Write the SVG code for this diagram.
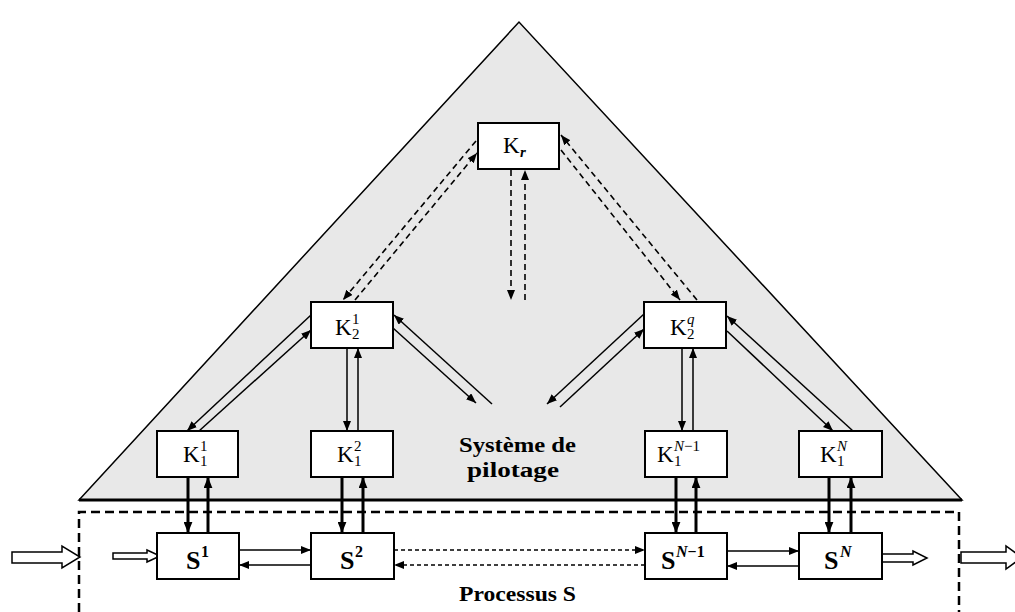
<svg xmlns="http://www.w3.org/2000/svg" width="1015" height="612" viewBox="0 0 1015 612">
<style>
.box{fill:#fff;stroke:#000;stroke-width:2}
.k{font-family:"Liberation Serif",serif;font-size:23px;fill:#000}
.ks{font-family:"Liberation Serif",serif;font-size:15px;fill:#000}
.s{font-family:"Liberation Serif",serif;font-size:26px;font-weight:bold;fill:#000}
.ss{font-family:"Liberation Serif",serif;font-size:16px;font-weight:bold;fill:#000}
.it{font-style:italic}
.lbl{font-family:"Liberation Serif",serif;font-size:20px;font-weight:bold;fill:#000}
.thin{stroke:#000;stroke-width:1.5;fill:none}
.thick{stroke:#000;stroke-width:3;fill:none}
.dash{stroke:#000;stroke-width:1.6;fill:none;stroke-dasharray:6 4}
.dot{stroke:#000;stroke-width:1.5;fill:none;stroke-dasharray:4 3}
.block{fill:#fff;stroke:#000;stroke-width:1.5}
</style>
<defs>
<marker id="ah" viewBox="0 0 10 8" refX="10" refY="4" markerWidth="10" markerHeight="8" orient="auto" markerUnits="userSpaceOnUse"><path d="M0,0 L10,4 L0,8 z" fill="#000"/></marker>
<marker id="ahb" viewBox="0 0 10 8" refX="10" refY="4" markerWidth="11" markerHeight="9" orient="auto" markerUnits="userSpaceOnUse"><path d="M0,0 L10,4 L0,8 z" fill="#000"/></marker>
</defs>
<rect width="1015" height="612" fill="#fff"/>
<g id="triangle">
<polygon points="79,500 519,22 962,500" fill="#e8e8e8" stroke="#000" stroke-width="1.5"/>
<line x1="79" y1="500" x2="962" y2="500" stroke="#000" stroke-width="3"/>
</g>
<g id="process-boundary">
<path d="M79,612 V512 H959 V612" fill="none" stroke="#000" stroke-width="2.5" stroke-dasharray="9 5"/>
</g>
<g id="connectors">
<line class="dash" x1="476" y1="141" x2="343" y2="300" marker-end="url(#ah)"/>
<line class="dash" x1="355" y1="300" x2="477" y2="153" marker-end="url(#ah)"/>
<line class="dash" x1="697" y1="300" x2="561" y2="135" marker-end="url(#ah)"/>
<line class="dash" x1="561" y1="150" x2="680" y2="300" marker-end="url(#ah)"/>
<line class="dash" x1="511" y1="170" x2="511" y2="300" marker-end="url(#ah)"/>
<line class="dash" x1="525" y1="300" x2="525" y2="170" marker-end="url(#ah)"/>
<line class="thin" x1="311" y1="315" x2="187" y2="431" marker-end="url(#ah)"/>
<line class="thin" x1="199" y1="431" x2="311" y2="330" marker-end="url(#ah)"/>
<line class="thin" x1="347" y1="348" x2="347" y2="431" marker-end="url(#ah)"/>
<line class="thin" x1="358" y1="431" x2="358" y2="348" marker-end="url(#ah)"/>
<line class="thin" x1="393" y1="328" x2="476" y2="403" marker-end="url(#ah)"/>
<line class="thin" x1="492" y1="404" x2="394" y2="315" marker-end="url(#ah)"/>
<line class="thin" x1="644" y1="314" x2="547" y2="404" marker-end="url(#ah)"/>
<line class="thin" x1="560" y1="407" x2="644" y2="329" marker-end="url(#ah)"/>
<line class="thin" x1="682" y1="348" x2="682" y2="431" marker-end="url(#ah)"/>
<line class="thin" x1="693" y1="431" x2="693" y2="348" marker-end="url(#ah)"/>
<line class="thin" x1="727" y1="331" x2="833" y2="431" marker-end="url(#ah)"/>
<line class="thin" x1="853" y1="431" x2="727" y2="316" marker-end="url(#ah)"/>
<line class="thick" x1="188" y1="477" x2="188" y2="533" marker-end="url(#ahb)"/>
<line class="thick" x1="208" y1="533" x2="208" y2="477" marker-end="url(#ahb)"/>
<line class="thick" x1="342" y1="477" x2="342" y2="533" marker-end="url(#ahb)"/>
<line class="thick" x1="363" y1="533" x2="363" y2="477" marker-end="url(#ahb)"/>
<line class="thick" x1="676" y1="477" x2="676" y2="533" marker-end="url(#ahb)"/>
<line class="thick" x1="696" y1="533" x2="696" y2="477" marker-end="url(#ahb)"/>
<line class="thick" x1="829" y1="477" x2="829" y2="533" marker-end="url(#ahb)"/>
<line class="thick" x1="851" y1="533" x2="851" y2="477" marker-end="url(#ahb)"/>
<line class="thin" x1="239" y1="550" x2="311" y2="550" marker-end="url(#ah)"/>
<line class="thin" x1="311" y1="565" x2="239" y2="565" marker-end="url(#ah)"/>
<line class="dot" x1="394" y1="550" x2="645" y2="550" marker-end="url(#ah)"/>
<line class="dot" x1="645" y1="565" x2="394" y2="565" marker-end="url(#ah)"/>
<line class="thin" x1="727" y1="551" x2="799" y2="551" marker-end="url(#ah)"/>
<line class="thin" x1="799" y1="566" x2="727" y2="566" marker-end="url(#ah)"/>
<polygon class="block" points="12,552 62,552 62,546 80,557 62,568 62,563 12,563"/>
<polygon class="block" points="113,553 147,553 147,550 160,556 147,562 147,559 113,559"/>
<polygon class="block" points="882,554 913,554 913,551 927,558 913,565 913,562 882,562"/>
<polygon class="block" points="961,552 1006,552 1006,546 1022,557.5 1006,569 1006,563 961,563"/>
</g>
<g id="Kr"><rect class="box" x="478" y="123" width="81" height="46"/><text class="k" x="503" y="153">K</text><text class="ks it" font-weight="bold" x="520" y="157">r</text></g>
<g id="K2-1"><rect class="box" x="311" y="302" width="82" height="46"/><text class="k" x="335" y="335">K</text><text class="ks" x="352" y="324">1</text><text class="ks" x="352" y="339">2</text></g>
<g id="K2-q"><rect class="box" x="644" y="302" width="82" height="46"/><text class="k" x="670" y="335">K</text><text class="ks it" x="687" y="324">q</text><text class="ks" x="687" y="339">2</text></g>
<g id="K1-1"><rect class="box" x="157" y="431" width="81" height="46"/><text class="k" x="183" y="462">K</text><text class="ks" x="200" y="451">1</text><text class="ks" x="200" y="466">1</text></g>
<g id="K1-2"><rect class="box" x="311" y="431" width="82" height="46"/><text class="k" x="337" y="462">K</text><text class="ks" x="354" y="451">2</text><text class="ks" x="354" y="466">1</text></g>
<g id="K1-N-1"><rect class="box" x="645" y="431" width="82" height="46"/><text class="k" x="657" y="462">K</text><text class="ks" x="674" y="451"><tspan class="it">N</tspan>−1</text><text class="ks" x="674" y="466">1</text></g>
<g id="K1-N"><rect class="box" x="799" y="431" width="83" height="46"/><text class="k" x="820" y="462">K</text><text class="ks it" x="837" y="451">N</text><text class="ks" x="837" y="466">1</text></g>
<g id="S1"><rect class="box" x="157" y="533" width="82" height="46"/><text class="s" x="186" y="569">S</text><text class="ss" x="201" y="557">1</text></g>
<g id="S2"><rect class="box" x="311" y="533" width="83" height="46"/><text class="s" x="340" y="569">S</text><text class="ss" x="355" y="557">2</text></g>
<g id="S-N-1"><rect class="box" x="645" y="533" width="82" height="46"/><text class="s" x="661" y="569">S</text><text class="ss" x="676" y="557"><tspan class="it">N</tspan>−1</text></g>
<g id="S-N"><rect class="box" x="799" y="533" width="83" height="46"/><text class="s" x="824" y="569">S</text><text class="ss it" x="840" y="557">N</text></g>
<text class="lbl" x="459" y="452" textLength="117" lengthAdjust="spacingAndGlyphs">Système de</text>
<text class="lbl" x="467" y="477" textLength="92" lengthAdjust="spacingAndGlyphs">pilotage</text>
<text class="lbl" x="459" y="601" textLength="117" lengthAdjust="spacingAndGlyphs">Processus S</text>
</svg>
